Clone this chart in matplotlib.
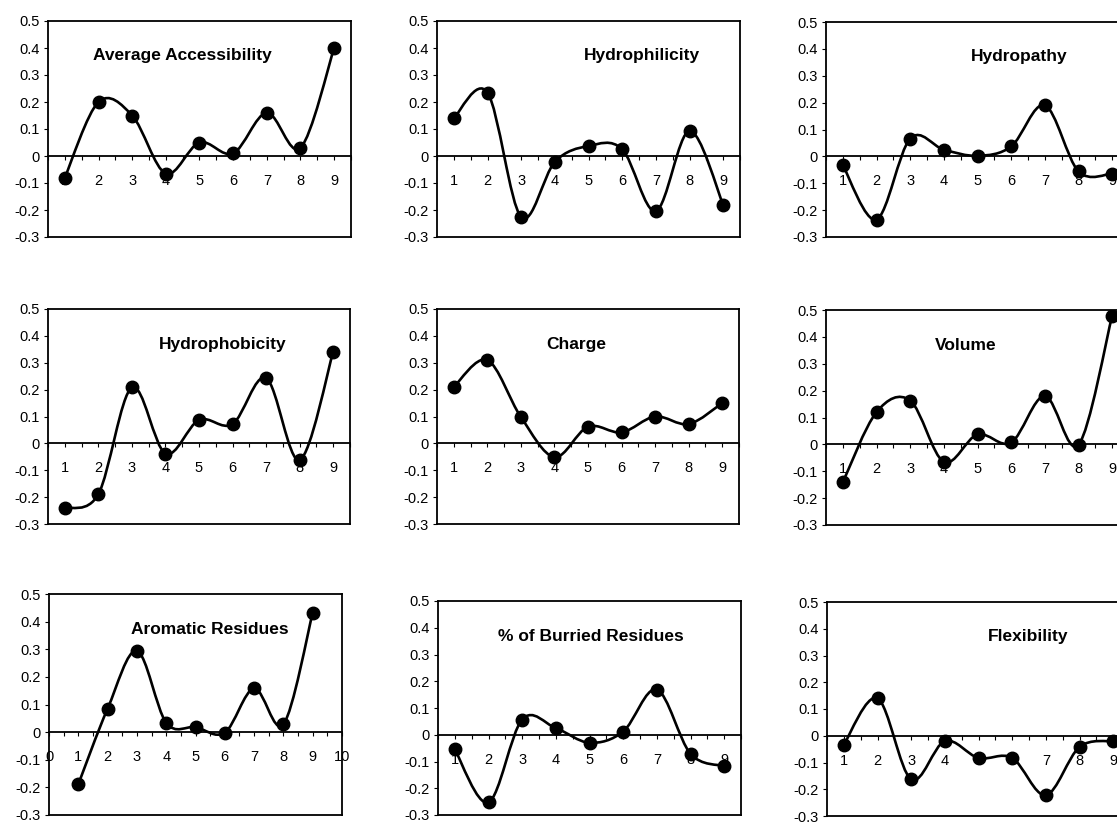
import numpy as np
import matplotlib.pyplot as plt
from matplotlib.path import Path
from matplotlib.patches import PathPatch
from matplotlib.lines import Line2D

plt.rcParams['font.family'] = ['Liberation Sans', 'DejaVu Sans']

# posiciones de los residuos
posiciones = [1, 2, 3, 4, 5, 6, 7, 8, 9]

average_accessibility = [-0.08, 0.20, 0.15, -0.065, 0.05, 0.01, 0.16, 0.03, 0.40]
hydrophilicity = [0.14, 0.235, -0.226, -0.022, 0.037, 0.025, -0.204, 0.093, -0.18]
hydropathy = [-0.033, -0.235, 0.066, 0.025, 0.002, 0.037, 0.19, -0.056, -0.064]
hydrophobicity = [-0.241, -0.189, 0.208, -0.038, 0.087, 0.072, 0.243, -0.062, 0.341]
charge = [0.21, 0.31, 0.098, -0.051, 0.062, 0.041, 0.10, 0.072, 0.15]
volume = [-0.141, 0.12, 0.163, -0.065, 0.037, 0.007, 0.18, -0.002, 0.479]
aromatic = [-0.189, 0.085, 0.294, 0.034, 0.018, -0.002, 0.158, 0.028, 0.432]
burried = [-0.055, -0.253, 0.057, 0.025, -0.03, 0.012, 0.169, -0.071, -0.117]
flexibility = [-0.033, 0.14, -0.163, -0.02, -0.083, -0.083, -0.222, -0.042, -0.02]

titulos = ["Average Accessibility", "Hydrophilicity", "Hydropathy",
           "Hydrophobicity", "Charge", "Volume",
           "Aromatic Residues", "% of Burried Residues", "Flexibility"]
series = [average_accessibility, hydrophilicity, hydropathy,
          hydrophobicity, charge, volume,
          aromatic, burried, flexibility]

y_ticks = [-0.3, -0.2, -0.1, 0, 0.1, 0.2, 0.3, 0.4, 0.5]
y_labels = ["-0.3", "-0.2", "-0.1", "0", "0.1", "0.2", "0.3", "0.4", "0.5"]

# caja de cada panel en pixeles: izquierda, arriba, ancho, alto
W, H = 1117, 824
cajas = [(48, 21, 303, 216), (437, 21, 303, 216), (826, 22, 303, 215),
         (48, 309, 302, 215), (437, 309, 302, 215), (826, 310, 303, 215),
         (49, 594, 293, 221), (438, 601, 303, 214), (827, 602, 303, 214)]
pos_titulo = [(0.445, 0.838), (0.677, 0.838), (0.637, 0.838),
              (0.58, 0.837), (0.46, 0.837), (0.46, 0.837),
              (0.55, 0.84), (0.505, 0.833), (0.664, 0.837)]


def curva_suave(x, y):
    """Curva de Bezier tipo Excel (suavizado) que pasa por los puntos."""
    x = np.asarray(x, float)
    y = np.asarray(y, float)
    n = len(x)
    verts = [(x[0], y[0])]
    codes = [Path.MOVETO]
    for i in range(n - 1):
        i0 = max(i - 1, 0)
        i3 = min(i + 2, n - 1)
        c1 = (x[i] + (x[i + 1] - x[i0]) / 6, y[i] + (y[i + 1] - y[i0]) / 6)
        c2 = (x[i + 1] - (x[i3] - x[i]) / 6, y[i + 1] - (y[i3] - y[i]) / 6)
        verts += [c1, c2, (x[i + 1], y[i + 1])]
        codes += [Path.CURVE4] * 3
    return Path(verts, codes)


fig = plt.figure(figsize=(W / 100, H / 100), dpi=100)

for k in range(9):
    l, t, w, h = cajas[k]
    ax = fig.add_axes([l / W, 1 - (t + h) / H, w / W, h / H])

    if k == 6:
        ax.set_xlim(0, 10)
        ax.set_xticks(range(0, 11))
    else:
        ax.set_xlim(0.5, 9.5)
        ax.set_xticks(posiciones)
    ax.set_xticks(np.arange(0.5, 10, 0.5), minor=True)
    ax.set_ylim(-0.3, 0.5)
    ax.set_yticks(y_ticks)
    ax.set_yticklabels(y_labels)

    # eje x sobre el cero, como en Excel
    ax.spines['bottom'].set_position(('data', 0))
    for s in ax.spines.values():
        s.set_linewidth(1.3)
    ax.add_line(Line2D([0, 1], [0, 0], transform=ax.transAxes,
                       color='black', lw=1.3, clip_on=False))

    ax.tick_params(axis='x', which='both', direction='out', length=3,
                   width=0.8, pad=10, labelsize=10.5)
    ax.tick_params(axis='y', direction='out', length=3, width=0.8,
                   pad=3, labelsize=10.5)

    ax.add_patch(PathPatch(curva_suave(posiciones, series[k]),
                           facecolor='none', edgecolor='black', lw=1.9, zorder=3))
    ax.plot(posiciones, series[k], 'o', color='black', markersize=9, zorder=4)

    ax.text(pos_titulo[k][0], pos_titulo[k][1], titulos[k], transform=ax.transAxes,
            ha='center', va='center', fontsize=12.5, fontweight='bold')

fig.savefig("out.png", dpi=100)
